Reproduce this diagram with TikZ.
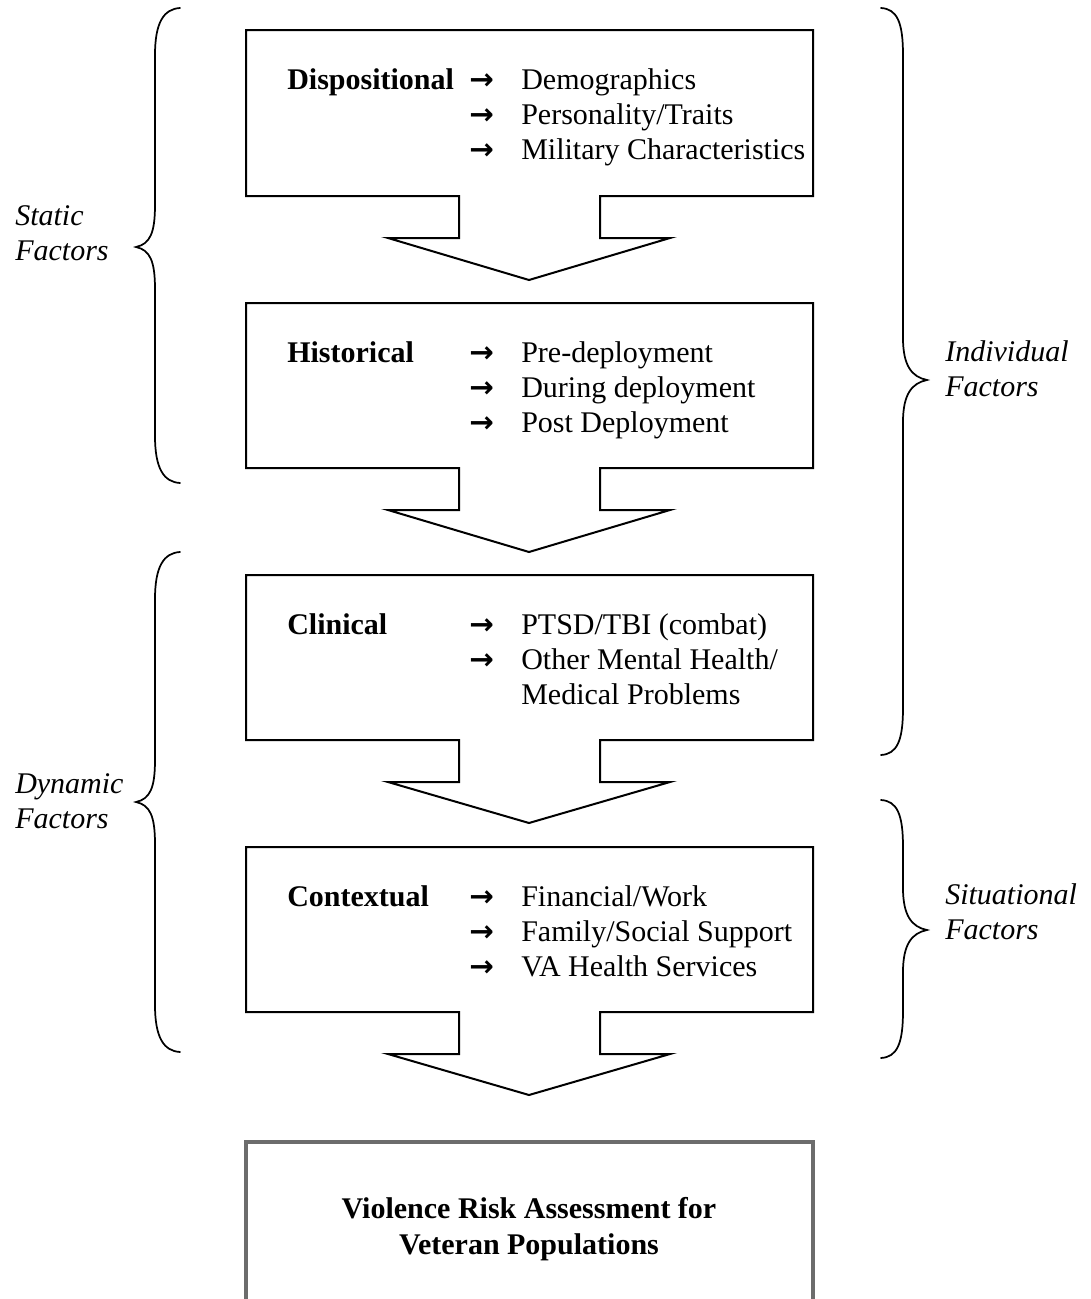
\documentclass[tikz,border=0pt]{standalone}
\usepackage{fontspec}
\setmainfont{Liberation Serif}
\newfontfamily\arrowfont{DejaVu Sans}
\begin{document}
\begin{tikzpicture}[x=0.75pt,y=-0.75pt,line join=miter,
  outline/.style={draw=black,line width=1.5pt},
  finalbox/.style={draw=gray!85!black,line width=3pt},
  bracepath/.style={draw=black,line width=1.3pt,line cap=round},
  lbl/.style={anchor=base west,inner sep=0pt,font=\fontsize{22.5}{26}\selectfont\bfseries},
  item/.style={anchor=base west,inner sep=0pt,font=\fontsize{22.5}{26}\selectfont},
  arr/.style={anchor=base west,inner sep=0pt,font=\fontsize{22}{26}\arrowfont\bfseries},
  side/.style={anchor=west,inner sep=0pt,align=left,font=\fontsize{22.5}{26}\selectfont\itshape},
  final/.style={anchor=base,inner sep=0pt,font=\fontsize{22.5}{26}\selectfont\bfseries}]
\useasboundingbox (0,0) rectangle (1091,1299);
\clip (0,0) rectangle (1091,1299);

% boxes with arrows
\draw[outline] (459,196) -- (246,196) -- (246,30) -- (813,30) -- (813,196) -- (600,196) -- (600,238) -- (670,238) -- (529,280) -- (388,238) -- (459,238) -- cycle;
\draw[outline] (459,468) -- (246,468) -- (246,303) -- (813,303) -- (813,468) -- (600,468) -- (600,510) -- (670,510) -- (529,552) -- (388,510) -- (459,510) -- cycle;
\draw[outline] (459,740) -- (246,740) -- (246,575) -- (813,575) -- (813,740) -- (600,740) -- (600,782) -- (670,782) -- (529,823) -- (388,782) -- (459,782) -- cycle;
\draw[outline] (459,1012) -- (246,1012) -- (246,847) -- (813,847) -- (813,1012) -- (600,1012) -- (600,1054) -- (670,1054) -- (529,1095) -- (388,1054) -- (459,1054) -- cycle;
\draw[finalbox] (246,1142) rectangle (813,1302);

% box 1
\node[lbl]  (d0) at (287,89) {Dispositional};
\node[arr]  (da1) at (469,89) {→};
\node[arr]  (da2) at (469,124) {→};
\node[arr]  (da3) at (469,159) {→};
\node[item] (d1) at (521,89) {Demographics};
\node[item] (d2) at (521,124) {Personality/Traits};
\node[item] (d3) at (521,159) {Military Characteristics};
% box 2
\node[lbl]  (h0) at (287,362) {Historical};
\node[arr]  (ha1) at (469,362) {→};
\node[arr]  (ha2) at (469,397) {→};
\node[arr]  (ha3) at (469,432) {→};
\node[item] (h1) at (521,362) {Pre-deployment};
\node[item] (h2) at (521,397) {During deployment};
\node[item] (h3) at (521,432) {Post Deployment};
% box 3
\node[lbl]  (c0) at (287,634) {Clinical};
\node[arr]  (ca1) at (469,634) {→};
\node[arr]  (ca2) at (469,669) {→};
\node[item] (c1) at (521,634) {PTSD/TBI (combat)};
\node[item] (c2) at (521,669) {Other Mental Health/};
\node[item] (c3) at (521,704) {Medical Problems};
% box 4
\node[lbl]  (x0) at (287,906) {Contextual};
\node[arr]  (xa1) at (469,906) {→};
\node[arr]  (xa2) at (469,941) {→};
\node[arr]  (xa3) at (469,976) {→};
\node[item] (x1) at (521,906) {Financial/Work};
\node[item] (x2) at (521,941) {Family/Social Support};
\node[item] (x3) at (521,976) {VA Health Services};
% final box
\node[final] (f1) at (529,1218) {Violence Risk Assessment for};
\node[final] (f2) at (529,1254) {Veteran Populations};

% braces
\draw[bracepath] (180,8) .. controls (164,9) and (155,22) .. (155,55) -- (155,205) .. controls (155,233) and (150,244) .. (136,247) .. controls (150,250) and (155,261) .. (155,289) -- (155,436) .. controls (155,469) and (164,482) .. (180,483);
\draw[bracepath] (180,552) .. controls (164,553) and (155,566) .. (155,599) -- (155,760) .. controls (155,788) and (150,799) .. (136,802) .. controls (150,805) and (155,816) .. (155,844) -- (155,1005) .. controls (155,1038) and (164,1051) .. (180,1052);
\draw[bracepath] (881,8) .. controls (897,9) and (903,22) .. (903,55) -- (903,338) .. controls (903,366) and (912,377) .. (927,380) .. controls (912,383) and (903,394) .. (903,422) -- (903,708) .. controls (903,741) and (897,754) .. (881,755);
\draw[bracepath] (881,800) .. controls (897,801) and (903,814) .. (903,847) -- (903,888) .. controls (903,916) and (912,927) .. (927,930) .. controls (912,933) and (903,944) .. (903,972) -- (903,1011) .. controls (903,1044) and (897,1057) .. (881,1058);

\node[side] (sf) at (15,233) {Static\\Factors};
\node[side] (df) at (15,801) {Dynamic\\Factors};
\node[side] (if) at (945,369) {Individual\\Factors};
\node[side] (uf) at (945,912) {Situational\\Factors};
\end{tikzpicture}
\end{document}
